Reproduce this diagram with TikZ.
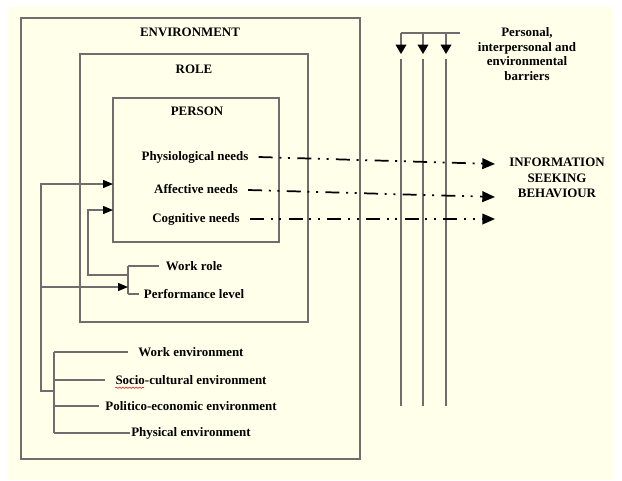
\documentclass[tikz,border=0pt]{standalone}
\usepackage{fontspec}
\setmainfont{Liberation Serif}
\usetikzlibrary{arrows.meta,fit,decorations.pathmorphing}
\definecolor{cream}{RGB}{255,255,234}
\definecolor{linegray}{RGB}{110,110,110}

\begin{document}
\begin{tikzpicture}[x=0.75pt,y=-0.75pt,
  box/.style={draw=linegray, line width=1pt, inner sep=0pt},
  lbl/.style={font=\bfseries\fontsize{9.7}{11.5}\selectfont, inner sep=0pt, align=center},
  tie/.style={draw=linegray, line width=1pt},
  feed/.style={tie, -{Triangle[length=7.5pt,width=6pt,color=black]}},
  drop/.style={tie, -{Triangle[length=7pt,width=8pt,color=black]}},
  flow/.style={black, line width=1.3pt,
    dash pattern=on 10.5pt off 5pt on 1.5pt off 5pt on 1.5pt off 5.5pt,
    -{Triangle[length=9.5pt,width=8pt]}}]

  \useasboundingbox (0,0) rectangle (622,480);
  \fill[cream] (7,7) rectangle (614,480);

  % nested boxes
  \node[box, fit={(21,18) (360,459)}] (env) {};
  \node[box, fit={(80,54) (308,322)}] (role) {};
  \node[box, fit={(113,98) (279,242)}] (person) {};

  \node[lbl] (envlabel) at (190,32) {ENVIRONMENT};
  \node[lbl] (rolelabel) at (194,69) {ROLE};
  \node[lbl] (personlabel) at (197,111) {PERSON};

  \node[lbl] (physio) at (195,157) {Physiological needs};
  \node[lbl] (affect) at (196,189) {Affective needs};
  \node[lbl] (cogni) at (196,219) {Cognitive needs};

  \node[lbl] (workrole) at (194,266) {Work role};
  \node[lbl] (perf) at (194,294) {Performance level};

  \node[lbl] (workenv) at (191,352) {Work environment};
  \node[lbl] (socio) at (191,380) {Socio-cultural environment};
  \node[lbl] (politico) at (191,406) {Politico-economic environment};
  \node[lbl] (physical) at (191,433) {Physical environment};

  \node[lbl, font=\bfseries\fontsize{9.7}{11}\selectfont] (barriers) at (527,54)
    {Personal,\\interpersonal and\\environmental\\barriers};
  \node[lbl, font=\bfseries\fontsize{9.7}{11.5}\selectfont] (isb) at (557,178)
    {INFORMATION\\SEEKING\\BEHAVIOUR};

  % spell-check mark
  \draw[red, line width=0.4pt, decorate,
    decoration={snake, amplitude=0.5pt, segment length=2.5pt}]
    ([yshift=-2.5pt]socio.base west) -- ++(29,0);

  % environment bracket
  \coordinate (envtop) at (54,352);
  \coordinate (envbot) at (54,433);
  \draw[tie] (envtop) -- (envbot);
  \draw[tie] (envtop) -- ([xshift=-7.5pt]workenv.west);
  \draw[tie] (envtop |- socio) -- ([xshift=-7.5pt]socio.west);
  \draw[tie] (envtop |- politico) -- ([xshift=-4.5pt]politico.west);
  \draw[tie] (envbot) -- ([xshift=-1pt]physical.west);

  % role bracket
  \coordinate (roletop) at (128,266);
  \coordinate (rolebot) at (128,294);
  \draw[tie] (roletop) -- (rolebot);
  \draw[tie] (roletop) -- ([xshift=-5pt]workrole.west);
  \draw[tie] (rolebot) -- ([xshift=-3.5pt]perf.west);

  % feedback loops
  \coordinate (loopA) at (41,391);
  \coordinate (loopB) at (88,275);
  \coordinate (affin) at (113,184);
  \coordinate (cogin) at (113,210);
  \coordinate (perfin) at (128,287);
  \draw[feed] (loopA -| envbot) -- (loopA) |- (affin);
  \draw[feed] (loopA |- perfin) -- (perfin);
  \draw[feed] (roletop |- loopB) -- (loopB) |- (cogin);

  % barriers
  \coordinate (barend) at (460,33);
  \foreach \x/\n in {401/ba,423/bb,446/bc} {
    \coordinate (\n) at (\x,33);
    \draw[drop] (\n) -- (\x,54);
    \draw[tie] (\x,59) -- (\x,406);
  }
  \draw[tie] (ba) -- (barend);

  % needs to behaviour
  \coordinate (out1) at (495,164);
  \coordinate (out2) at (495,197);
  \coordinate (out3) at (495,219);
  \draw[flow] ([xshift=7.5pt]physio.east) -- (out1);
  \draw[flow] ([xshift=7.5pt]affect.east |- 0,190) -- (out2);
  \draw[flow] ([xshift=7.5pt]cogni.east) -- (out3);

\end{tikzpicture}
\end{document}
